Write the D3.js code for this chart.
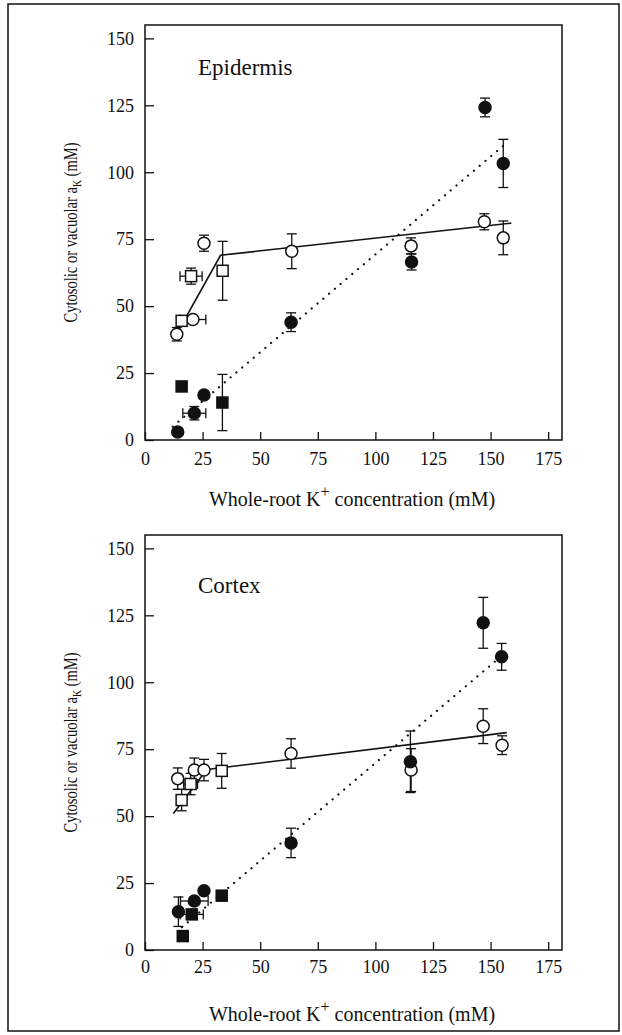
<!DOCTYPE html>
<html>
<head>
<meta charset="utf-8">
<script src="https://cdn.jsdelivr.net/npm/d3@7"></script>
<style>
  body { margin: 0; background: #fff; }
  svg { display: block; }
  svg text { font-family: "Times New Roman", Times, "Liberation Serif", Tinos, "Nimbus Roman", "Nimbus Roman No9 L", "DejaVu Serif", "Noto Serif", FreeSerif, serif; }
</style>
</head>
<body>
<svg width="622" height="1035"></svg>
<script>
// x: whole-root K+ (mM), y: a_K (mM); ey / ex are error bar half widths
const xTicks = [0, 25, 50, 75, 100, 125, 150, 175];
const yTicks = [0, 25, 50, 75, 100, 125, 150];

const epiOpenCircle = [
  {x: 13.8, y: 39.5, ey: 2.5},
  {x: 20.8, y: 45, ex: 5.6},
  {x: 25.6, y: 73.5, ey: 3},
  {x: 63.7, y: 70.5, ey: 6.5},
  {x: 115.5, y: 72.5, ey: 3},
  {x: 147.3, y: 81.5, ey: 3},
  {x: 155.5, y: 75.5, ey: 6.3}
];
const epiOpenSquare = [
  {x: 15.9, y: 44.5, ey: 1.5},
  {x: 20, y: 61.2, ey: 3, ex: 4.8},
  {x: 33.7, y: 63.2, ey: 11}
];
const epiFilledCircle = [
  {x: 14.2, y: 3},
  {x: 21.4, y: 10, ey: 2.5, ex: 5},
  {x: 25.6, y: 16.8, ey: 1},
  {x: 63.4, y: 44, ey: 3.5},
  {x: 115.7, y: 66.5, ey: 3},
  {x: 147.6, y: 124.2, ey: 3.5},
  {x: 155.5, y: 103.3, ey: 9}
];
const epiFilledSquare = [
  {x: 15.9, y: 20},
  {x: 33.6, y: 14, ey: 10.5}
];
const epiSolid = [[13, 38.5], [32.8, 69], [159, 81]];
const epiDotted = [[12, 5], [157, 111]];

const ctxOpenCircle = [
  {x: 14.2, y: 64, ey: 4},
  {x: 21.4, y: 67.2, ey: 4.5},
  {x: 25.6, y: 67.2, ey: 4},
  {x: 63.4, y: 73.4, ey: 5.5},
  {x: 115.5, y: 67.2, ey: 8},
  {x: 146.8, y: 83.6, ey: 6.5},
  {x: 155, y: 76.5, ey: 3.5}
];
const ctxOpenSquare = [
  {x: 15.9, y: 56, ey: 4},
  {x: 19.8, y: 62, ey: 4, ex: 3},
  {x: 33.3, y: 66.9, ey: 6.5}
];
const ctxFilledCircle = [
  {x: 14.5, y: 14.3, ey: 5.5},
  {x: 21.4, y: 18.3, ex: 6},
  {x: 25.6, y: 22.1},
  {x: 63.4, y: 40, ey: 5.5},
  {x: 115.2, y: 70.3, ey: 11.5},
  {x: 146.8, y: 122.2, ey: 9.5},
  {x: 154.8, y: 109.5, ey: 5}
];
const ctxFilledSquare = [
  {x: 16.4, y: 5.2},
  {x: 20.3, y: 13.3, ex: 5},
  {x: 33.3, y: 20.3}
];
const ctxSolid = [[12.3, 51], [26.8, 67.4], [157, 81.2]];
const ctxDotted = [[16, 8.5], [155, 110]];

const svg = d3.select("svg");

// outer frame
svg.append("rect")
  .attr("x", 8).attr("y", 4)
  .attr("width", 611).attr("height", 1027)
  .attr("fill", "none").attr("stroke", "#111").attr("stroke-width", 1.5);

const x = d3.scaleLinear().domain([0, 181]).range([145, 562]);

function drawPanel(top, name, labelY, series, solid, dotted, titleY, tickLabelY) {
  const bottom = top + 415;
  const y = d3.scaleLinear().domain([0, 155]).range([bottom, top]);
  const g = svg.append("g");

  g.append("rect")
    .attr("x", x(0)).attr("y", top)
    .attr("width", x(181) - x(0)).attr("height", bottom - top)
    .attr("fill", "none").attr("stroke", "#111").attr("stroke-width", 1.5);

  const yAxis = g.append("g")
    .attr("transform", `translate(${x(0)},0)`)
    .call(d3.axisLeft(y).tickValues(yTicks).tickSize(-9).tickPadding(11));
  const xAxis = g.append("g")
    .attr("transform", `translate(0,${bottom})`)
    .call(d3.axisBottom(x).tickValues(xTicks).tickSize(-8).tickPadding(tickLabelY));
  for (const ax of [yAxis, xAxis]) {
    ax.attr("font-family", null);
    ax.select(".domain").remove();
    ax.selectAll("line").attr("stroke", "#111").attr("stroke-width", 1.3);
    ax.selectAll("text").attr("font-size", 18).attr("fill", "#111");
  }

  const line = d3.line().x(d => x(d[0])).y(d => y(d[1]));
  g.append("path").datum(dotted).attr("d", line)
    .attr("fill", "none").attr("stroke", "#111").attr("stroke-width", 2.2)
    .attr("stroke-dasharray", "0.1,7.5").attr("stroke-linecap", "round");
  g.append("path").datum(solid).attr("d", line)
    .attr("fill", "none").attr("stroke", "#111").attr("stroke-width", 1.6);

  // error bars
  const all = [].concat(...series.map(s => s.data));
  const eb = g.append("g").attr("stroke", "#111").attr("stroke-width", 1.3);
  for (const d of all) {
    if (d.ey) {
      const y1 = y(d.y + d.ey), y2 = y(d.y - d.ey);
      eb.append("line").attr("x1", x(d.x)).attr("x2", x(d.x)).attr("y1", y1).attr("y2", y2);
      eb.append("line").attr("x1", x(d.x) - 5).attr("x2", x(d.x) + 5).attr("y1", y1).attr("y2", y1);
      eb.append("line").attr("x1", x(d.x) - 5).attr("x2", x(d.x) + 5).attr("y1", y2).attr("y2", y2);
    }
    if (d.ex) {
      const x1 = x(d.x - d.ex), x2 = x(d.x + d.ex);
      eb.append("line").attr("x1", x1).attr("x2", x2).attr("y1", y(d.y)).attr("y2", y(d.y));
      eb.append("line").attr("x1", x1).attr("x2", x1).attr("y1", y(d.y) - 5).attr("y2", y(d.y) + 5);
      eb.append("line").attr("x1", x2).attr("x2", x2).attr("y1", y(d.y) - 5).attr("y2", y(d.y) + 5);
    }
  }

  // markers
  for (const s of series) {
    const fill = s.filled ? "#111" : "#fff";
    if (s.shape === "circle") {
      g.append("g").selectAll("circle").data(s.data).enter().append("circle")
        .attr("cx", d => x(d.x)).attr("cy", d => y(d.y)).attr("r", 6)
        .attr("fill", fill).attr("stroke", "#111").attr("stroke-width", 1.5);
    } else {
      g.append("g").selectAll("rect").data(s.data).enter().append("rect")
        .attr("x", d => x(d.x) - 5.5).attr("y", d => y(d.y) - 5.5)
        .attr("width", 11).attr("height", 11)
        .attr("fill", fill).attr("stroke", "#111").attr("stroke-width", 1.5);
    }
  }

  g.append("text")
    .attr("x", 198).attr("y", labelY)
    .attr("font-size", 23).attr("fill", "#111")
    .text(name);

  // x title with superscript
  const xt = g.append("text")
    .attr("x", 352).attr("y", titleY).attr("text-anchor", "middle")
    .attr("font-size", 20).attr("fill", "#111");
  xt.append("tspan").text("Whole-root K");
  xt.append("tspan").attr("dy", -9).attr("font-size", 16).text("+");
  xt.append("tspan").attr("dy", 9).text(" concentration (mM)");

  // y title with subscript, narrow like the original
  const cy = (top + bottom) / 2;
  const yt = g.append("text")
    .attr("transform", `translate(77,${cy}) rotate(-90)`)
    .attr("text-anchor", "middle")
    .attr("font-size", 18).attr("fill", "#111")
    .attr("textLength", 180).attr("lengthAdjust", "spacingAndGlyphs");
  yt.append("tspan").text("Cytosolic or vacuolar a");
  yt.append("tspan").attr("dy", 4).attr("font-size", 12).text("K");
  yt.append("tspan").attr("dy", -4).text(" (mM)");
}

drawPanel(25, "Epidermis", 75, [
  {data: epiOpenCircle, shape: "circle", filled: false},
  {data: epiOpenSquare, shape: "square", filled: false},
  {data: epiFilledCircle, shape: "circle", filled: true},
  {data: epiFilledSquare, shape: "square", filled: true}
], epiSolid, epiDotted, 506, 12);

drawPanel(535, "Cortex", 593, [
  {data: ctxOpenCircle, shape: "circle", filled: false},
  {data: ctxOpenSquare, shape: "square", filled: false},
  {data: ctxFilledCircle, shape: "circle", filled: true},
  {data: ctxFilledSquare, shape: "square", filled: true}
], ctxSolid, ctxDotted, 1021, 10);
</script>
</body>
</html>
